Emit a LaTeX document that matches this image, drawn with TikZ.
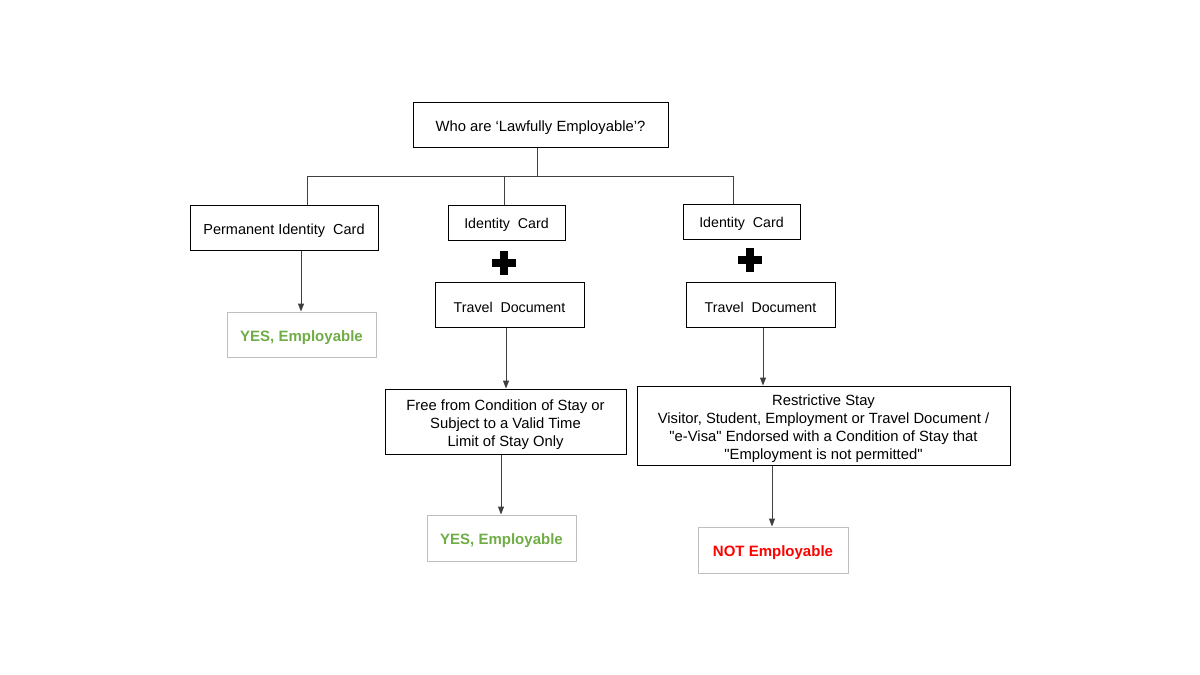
\documentclass[tikz,border=0pt]{standalone}
\usepackage{fontspec}
\setmainfont{Liberation Sans}[Ligatures=TeXOff]
\usetikzlibrary{arrows.meta}
\definecolor{okgreen}{HTML}{70AD47}
\definecolor{nored}{HTML}{FF0000}
\definecolor{resgray}{HTML}{BFBFBF}
\definecolor{linegray}{HTML}{404040}
\newcommand\topst{\rule{0pt}{1.12em}}
\begin{document}
\begin{tikzpicture}[x=1pt,y=-1pt,
  box/.style={draw=black,line width=1pt,inner sep=0pt,align=center,
    font=\fontsize{14.8}{18}\selectfont},
  picbox/.style={box,font=\fontsize{14.5}{18}\selectfont},
  smallbox/.style={box,font=\fontsize{14.2}{18}\selectfont},
  tdbox/.style={box,font=\fontsize{14.2}{18}\selectfont},
  resbox/.style={draw=resgray,line width=1pt,inner sep=0pt,align=center,
    font=\fontsize{15}{18}\selectfont\bfseries},
  link/.style={draw=linegray,line width=1pt},
  arr/.style={draw=linegray,line width=1pt,-{Triangle[length=8pt,width=6pt]}},
  plussign/.style={fill=black}]
\useasboundingbox (0,0) rectangle (1200,675);
\fill[white] (0,0) rectangle (1200,675);

\node[box,minimum width=255pt,minimum height=45pt] (root) at (540.5,124.5) {\topst Who are ‘Lawfully Employable’?};
\node[picbox,minimum width=188pt,minimum height=45pt] (pic) at (284,227.5) {\topst Permanent Identity\ \ Card};
\node[smallbox,minimum width=117pt,minimum height=35pt] (ic2) at (506.5,222.5) {\topst Identity\ \ Card};
\node[smallbox,minimum width=117pt,minimum height=35pt] (ic3) at (741.5,221.5) {\topst Identity\ \ Card};
\node[tdbox,minimum width=149pt,minimum height=45pt] (td2) at (509.5,304.5) {\topst Travel\ \ Document};
\node[tdbox,minimum width=149pt,minimum height=45pt] (td3) at (760.5,304.5) {\topst Travel\ \ Document};
\node[resbox,text=okgreen,minimum width=149pt,minimum height=45pt] (yes1) at (301.5,334.5) {\topst YES, Employable};
\node[box,minimum width=241pt,minimum height=65pt] (free) at (505.5,421.5) {\topst Free from Condition of Stay or\\Subject to a Valid Time\\Limit of Stay Only};
\node[resbox,text=okgreen,minimum width=149pt,minimum height=46pt] (yes2) at (501.5,538) {\topst YES, Employable};
\node[box,minimum width=373pt,minimum height=79pt] (restr) at (823.5,425.5) {\topst Restrictive Stay\\Visitor, Student,\ Employment or Travel Document /\\"e-Visa" Endorsed with a Condition of Stay that\\"Employment\ is not permitted"};
\node[resbox,text=nored,minimum width=150pt,minimum height=46pt] (notemp) at (773,550) {\topst NOT Employable};

% plus signs
\fill[plussign] (492,259) rectangle (516,267);
\fill[plussign] (500,251) rectangle (508,275);
\fill[plussign] (738,256) rectangle (762,264);
\fill[plussign] (746,248) rectangle (754,272);

% tree connectors
\coordinate (j) at (537,176);
\coordinate (b1) at (307,176);
\coordinate (b2) at (504,176);
\coordinate (b3) at (733,176);
\draw[link] (root.south -| j) -- (j);
\draw[link] (b1) -- (b3);
\draw[link] (b1) -- (b1 |- pic.north);
\draw[link] (b2) -- (b2 |- ic2.north);
\draw[link] (b3) -- (b3 |- ic3.north);

% arrows
\draw[arr] (pic.south -| 301,0) -- (yes1.north -| 301,0);
\draw[arr] (td2.south -| 506,0) -- (free.north -| 506,0);
\draw[arr] (free.south -| 501,0) -- (yes2.north -| 501,0);
\draw[arr] (td3.south -| 763,0) -- (restr.north -| 763,0);
\draw[arr] (restr.south -| 772,0) -- (notemp.north -| 772,0);
\end{tikzpicture}
\end{document}
